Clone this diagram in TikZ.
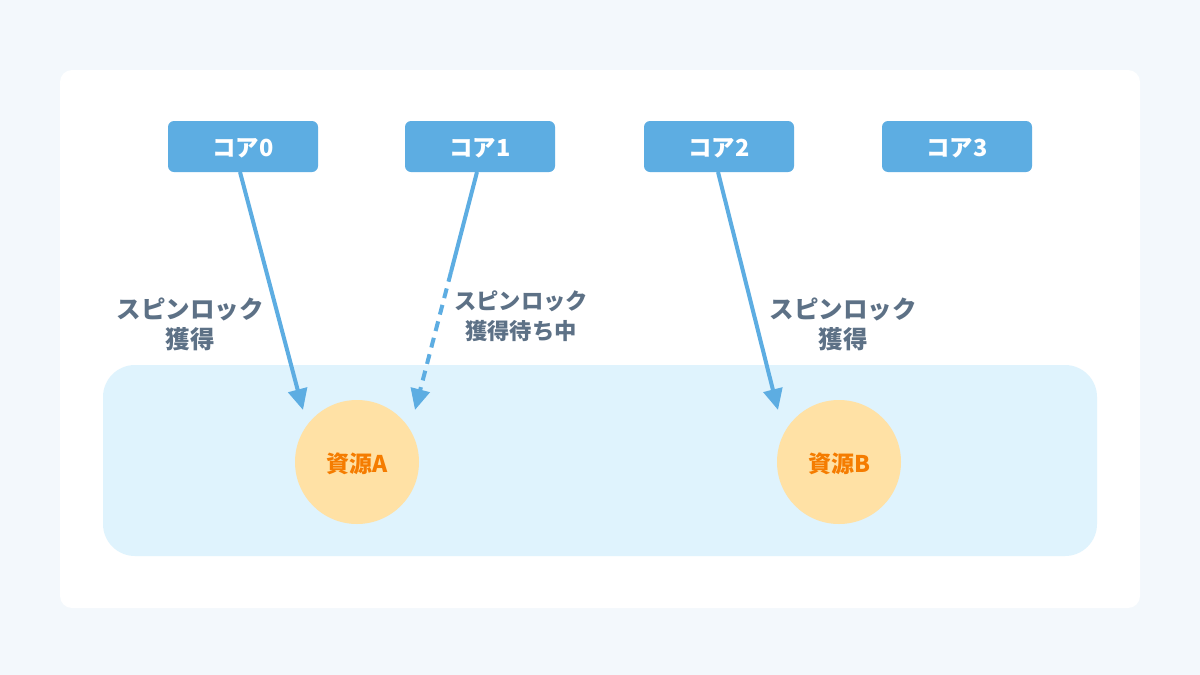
\documentclass[tikz,border=0pt]{standalone}
\usepackage{fontspec}
\setmainfont{Noto Sans CJK JP}
\usetikzlibrary{arrows.meta}
\definecolor{pagebg}{HTML}{F3F8FC}
\definecolor{corefill}{HTML}{5DADE2}
\definecolor{zonefill}{HTML}{DFF3FD}
\definecolor{resfill}{HTML}{FFE1A5}
\definecolor{restext}{HTML}{F57C00}
\definecolor{labeltext}{HTML}{5D7186}
\newcommand{\lowertext}[2]{\raisebox{-#1}[\height][\depth]{#2}}
\tikzset{
  corebox/.style={draw=none, fill=corefill, rounded corners=6pt, minimum width=150pt, minimum height=51pt, inner sep=0pt, text=white, font=\fontsize{23.5}{27}\selectfont\bfseries},
  resource/.style={circle, fill=resfill, minimum size=124pt, inner sep=0pt, text=restext, font=\fontsize{23}{27}\selectfont\bfseries},
  lbl/.style={text=labeltext, align=center, font=\fontsize{24.5}{30}\selectfont\bfseries},
  conn/.style={draw=corefill, line width=4pt, -{Triangle[length=21pt,width=19pt]}},
  connplain/.style={draw=corefill, line width=4pt},
}
\begin{document}
\begin{tikzpicture}[x=1pt,y=-1pt]
\useasboundingbox (0,0) rectangle (1200,675);
\fill[pagebg] (0,0) rectangle (1200,675);
\fill[white, rounded corners=12pt] (60,70) rectangle (1140,608);
\fill[zonefill, rounded corners=32pt] (103,365) rectangle (1097,556);

\node[corebox] (c0) at (243,146.5) {\lowertext{2pt}{コア0}};
\node[corebox] (c1) at (480,146.5) {\lowertext{2pt}{コア1}};
\node[corebox] (c2) at (719,146.5) {\lowertext{2pt}{コア2}};
\node[corebox] (c3) at (957,146.5) {\lowertext{2pt}{コア3}};

\node[resource] (ra) at (357,462) {\lowertext{2pt}{資源A}};
\node[resource] (rb) at (839,462) {\lowertext{2pt}{資源B}};

\coordinate (a0s) at (240,172);
\coordinate (a0e) at (303,410);
\coordinate (a1s) at (477,172);
\coordinate (a1m) at (451,272);
\coordinate (a1e) at (415,410);
\coordinate (a2s) at (718,172);
\coordinate (a2e) at (778,410);

\draw[conn] (a0s) -- (a0e);
\draw[connplain] (a1s) -- (a1m);
\draw[conn, dash pattern=on 10pt off 7pt] (a1m) -- (a1e);
\draw[conn] (a2s) -- (a2e);

\node[lbl] (l0) at (190,324) {スピンロック\\獲得};
\node[lbl, font=\fontsize{22.3}{30}\selectfont\bfseries] (l1) at (521,316) {スピンロック\\獲得待ち中};
\node[lbl] (l2) at (843,324) {スピンロック\\獲得};
\end{tikzpicture}
\end{document}
